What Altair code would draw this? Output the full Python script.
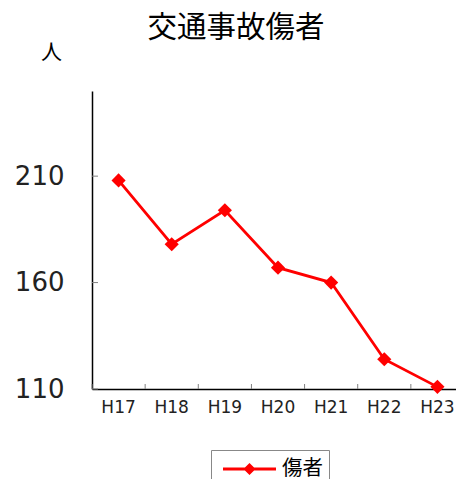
import altair as alt
import pandas as pd

# ---- data ----
years = ["H17", "H18", "H19", "H20", "H21", "H22", "H23"]
injured = [208, 178, 194, 167, 160, 124, 111]
series_name = "傷者"
y_ticks = [110, 160, 210]
y_domain = [110, 250]
title_text = "交通事故傷者"
y_unit = "人"

df = pd.DataFrame({"year": years, "value": injured, "series": [series_name] * len(years)})
ytick_df = pd.DataFrame({"value": y_ticks})
xtick_df = pd.DataFrame({"year": years})
xlast_df = pd.DataFrame({"year": [years[-1]]})

W, H = 372, 298
RED = "#FF0000"

xscale = alt.Scale(domain=years, paddingInner=0, paddingOuter=0)
yscale = alt.Scale(domain=y_domain, nice=False, zero=False)

x_axis = alt.Axis(title=None, labelAngle=0, labelFont="DejaVu Sans", labelFontSize=17,
                  labelColor="#222222", labelPadding=10, ticks=False, bandPosition=0.5,
                  labelAlign="center",
                  domainColor="black", domainWidth=1.5, grid=False)
y_axis = alt.Axis(values=y_ticks, title=y_unit, titleAngle=0, titleX=-41, titleY=-39,
                  titleAlign="center", titleBaseline="middle", titleFont="Noto Sans CJK JP",
                  titleFontSize=21, titleFontWeight="normal", titleColor="black",
                  labelFont="DejaVu Sans", labelFontSize=26, labelColor="#222222",
                  labelPadding=28, ticks=False, domainColor="black", domainWidth=1.5, grid=False)

legend_path = ("M-1,-0.055H1V0.055H-1Z"
               "M0,-0.23L0.23,0L0,0.23L-0.23,0Z")

base_x = alt.X("year:N", scale=xscale, sort=years, axis=x_axis)
base_y = alt.Y("value:Q", scale=yscale, axis=y_axis)

line = alt.Chart(df).mark_line(color=RED, strokeWidth=2.8).encode(x=base_x, y=base_y)

yticks = alt.Chart(ytick_df).mark_rule(color="#808080", strokeWidth=1).encode(
    y=alt.Y("value:Q", scale=yscale), x=alt.value(0), x2=alt.value(6)
)
xticks = alt.Chart(xtick_df).mark_rule(color="#808080", strokeWidth=1).encode(
    x=alt.X("year:N", scale=xscale, sort=years, bandPosition=0),
    y=alt.value(H), y2=alt.value(H - 5)
)
xlast = alt.Chart(xlast_df).mark_rule(color="#808080", strokeWidth=1).encode(
    x=alt.X("year:N", scale=xscale, sort=years, bandPosition=1),
    y=alt.value(H), y2=alt.value(H - 5)
)

points = alt.Chart(df).mark_point(shape="diamond", filled=True, size=200, opacity=1).encode(
    x=base_x, y=base_y,
    color=alt.Color("series:N", scale=alt.Scale(domain=[series_name], range=[RED]),
                    legend=alt.Legend(title=None, orient="none", legendX=119, legendY=359,
                                      symbolType=legend_path, symbolSize=2809,
                                      symbolFillColor=RED, symbolStrokeWidth=0,
                                      symbolOffset=6,
                                      labelFont="Noto Sans CJK JP", labelFontSize=20.5,
                                      labelColor="black", labelOffset=6, padding=6,
                                      strokeColor="#888888", fillColor="white",
                                      clipHeight=26, cornerRadius=0))
)

chart = alt.layer(line, yticks, xticks, xlast, points).properties(
    width=W, height=H,
    autosize=alt.AutoSizeParams(type="none"),
    padding={"left": 84, "top": 83, "right": -8, "bottom": 90},
    title=alt.Title(title_text, font="Noto Sans CJK JP", fontSize=29.5, fontWeight="normal",
                    color="black", anchor="middle", dx=-42, dy=3, offset=1),
).configure(background="white").configure_view(stroke="transparent", strokeWidth=0)

chart.save("out.html", embed_options={"renderer": "svg", "actions": False})
